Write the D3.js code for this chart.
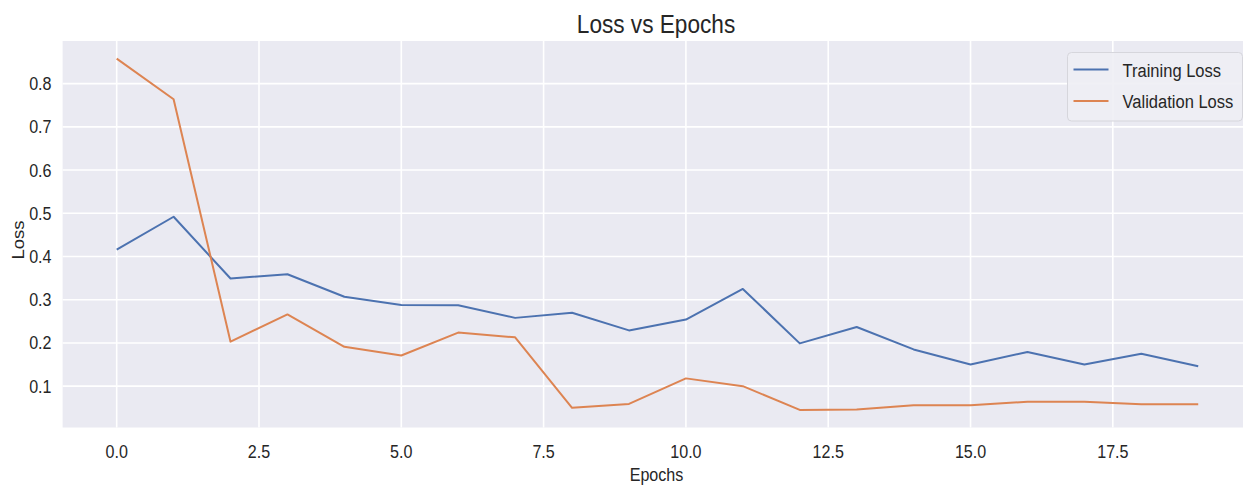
<!DOCTYPE html>
<html>
<head>
<meta charset="utf-8">
<script src="https://cdn.jsdelivr.net/npm/d3@7"></script>
<style>
  html, body { margin: 0; padding: 0; background: #ffffff; }
  svg { display: block; }
  text { font-family: "Liberation Sans", Arial, sans-serif; fill: #262626; }
</style>
</head>
<body>
<svg id="chart" width="1243" height="485"></svg>
<script>
// Per-epoch loss values
const epochs = d3.range(20);
const trainingLoss = [0.416, 0.492, 0.349, 0.359, 0.307, 0.288, 0.287, 0.258, 0.270, 0.229,
                      0.254, 0.325, 0.199, 0.237, 0.185, 0.150, 0.179, 0.150, 0.175, 0.146];
const validationLoss = [0.858, 0.764, 0.203, 0.266, 0.191, 0.171, 0.224, 0.213, 0.050, 0.059,
                        0.118, 0.100, 0.045, 0.046, 0.056, 0.056, 0.064, 0.064, 0.058, 0.058];
const seriesNames = ["Training Loss", "Validation Loss"];
const xTicks = [0, 2.5, 5, 7.5, 10, 12.5, 15, 17.5];
const yTicks = [0.1, 0.2, 0.3, 0.4, 0.5, 0.6, 0.7, 0.8];
const titleText = "Loss vs Epochs";
const xLabel = "Epochs";
const yLabel = "Loss";

const colors = ["#4c72b0", "#dd8452"];
const squish = 0.87;   // horizontal condensing of the text glyphs

const svg = d3.select("#chart");
const plot = { left: 62.6, right: 1252.3, top: 41, bottom: 427.5 };

// Axis domains with 5% padding around the data
const xExt = d3.extent(epochs);
const xPad = (xExt[1] - xExt[0]) * 0.05;
const allY = trainingLoss.concat(validationLoss);
const yExt = d3.extent(allY);
const yPad = (yExt[1] - yExt[0]) * 0.05;

const x = d3.scaleLinear().domain([xExt[0] - xPad, xExt[1] + xPad]).range([plot.left, plot.right]);
const y = d3.scaleLinear().domain([yExt[0] - yPad, yExt[1] + yPad]).range([plot.bottom, plot.top]);

// Plot background
svg.append("rect")
  .attr("x", plot.left).attr("y", plot.top)
  .attr("width", plot.right - plot.left).attr("height", plot.bottom - plot.top)
  .attr("fill", "#eaeaf2");

// Grid
const grid = svg.append("g").attr("stroke", "#ffffff").attr("stroke-width", 1.6);
grid.selectAll("line.gx").data(xTicks).join("line")
  .attr("class", "gx")
  .attr("x1", d => x(d)).attr("x2", d => x(d))
  .attr("y1", plot.top).attr("y2", plot.bottom);
grid.selectAll("line.gy").data(yTicks).join("line")
  .attr("class", "gy")
  .attr("x1", plot.left).attr("x2", plot.right)
  .attr("y1", d => y(d)).attr("y2", d => y(d));

// Condensed text helper
function label(g, str, px, py, size, anchor, rotate) {
  const t = g.append("text")
    .attr("transform", `translate(${px},${py})` + (rotate ? ` rotate(${rotate})` : "") +
      (rotate ? ` scale(1,${squish})` : ` scale(${squish},1)`))
    .attr("font-size", size)
    .attr("text-anchor", anchor)
    .text(str);
  return t;
}

// Tick labels
const fmt = d3.format(".1f");
const tickG = svg.append("g");
xTicks.forEach(v => label(tickG, fmt(v), x(v), 457.5, 18.5, "middle"));
yTicks.forEach(v => label(tickG, fmt(v), 51.5, y(v) + 6.5, 18.5, "end"));

// Titles
label(svg, titleText, 656, 32.5, 26, "middle");
label(svg, xLabel, 656.5, 480.5, 18.5, "middle");
label(svg, yLabel, 23.5, 240, 18.5, "middle", -90);

// Lines
const line = d3.line().x((d, i) => x(epochs[i])).y(d => y(d));
[trainingLoss, validationLoss].forEach((series, k) => {
  svg.append("path")
    .datum(series)
    .attr("d", line)
    .attr("fill", "none")
    .attr("stroke", colors[k])
    .attr("stroke-width", 2)
    .attr("stroke-linejoin", "round")
    .attr("stroke-linecap", "butt");
});

// Legend
const lg = svg.append("g");
lg.append("rect")
  .attr("x", 1067.5).attr("y", 52.5)
  .attr("width", 175).attr("height", 68.5)
  .attr("rx", 4).attr("ry", 4)
  .attr("fill", "#eeeef4").attr("fill-opacity", 0.9)
  .attr("stroke", "#d6d6dc").attr("stroke-width", 1);
seriesNames.forEach((name, k) => {
  const ly = 69.5 + k * 31.5;
  lg.append("line")
    .attr("x1", 1073.5).attr("x2", 1108.5)
    .attr("y1", ly).attr("y2", ly)
    .attr("stroke", colors[k]).attr("stroke-width", 2);
  label(lg, name, 1122.5, ly + 7, 19, "start");
});
</script>
</body>
</html>
